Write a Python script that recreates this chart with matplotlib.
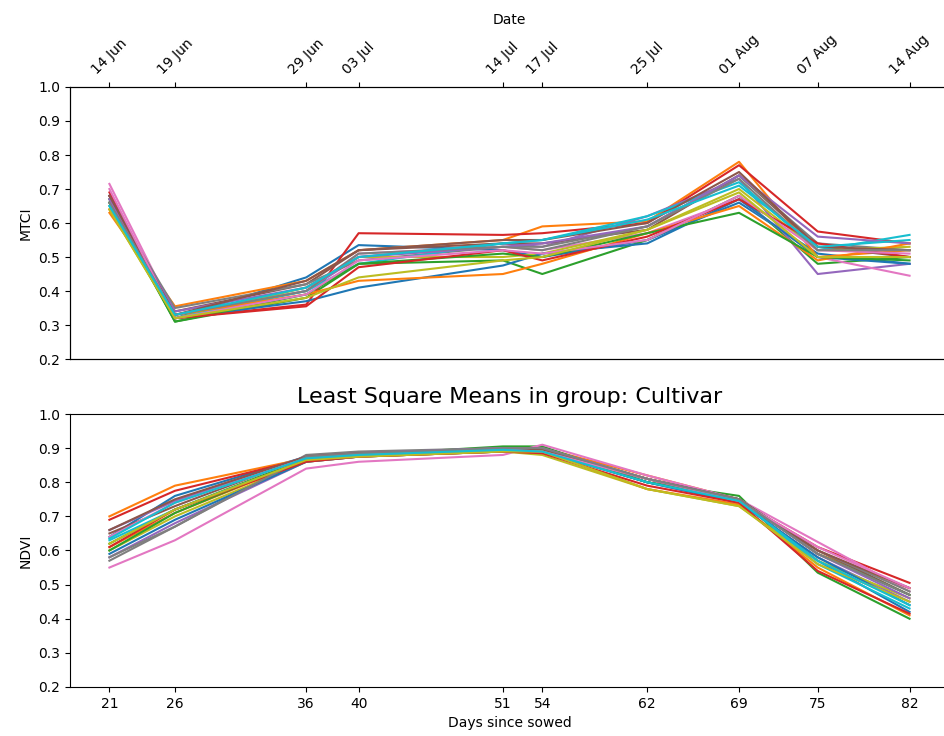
import numpy as np
import matplotlib
matplotlib.use("Agg")
import matplotlib.pyplot as plt

days = [21, 26, 36, 40, 51, 54, 62, 69, 75, 82]
dates = ["14 Jun", "19 Jun", "29 Jun", "03 Jul", "14 Jul", "17 Jul",
         "25 Jul", "01 Aug", "07 Aug", "14 Aug"]

# MTCI least square means per cultivar
mtci = [
    [0.66, 0.32, 0.44, 0.535, 0.52, 0.50, 0.55, 0.66, 0.51, 0.48],
    [0.63, 0.355, 0.43, 0.52, 0.55, 0.59, 0.605, 0.78, 0.50, 0.52],
    [0.67, 0.31, 0.38, 0.48, 0.49, 0.45, 0.55, 0.68, 0.48, 0.50],
    [0.69, 0.32, 0.36, 0.57, 0.565, 0.57, 0.60, 0.77, 0.575, 0.54],
    [0.68, 0.33, 0.40, 0.50, 0.54, 0.53, 0.62, 0.73, 0.45, 0.48],
    [0.66, 0.34, 0.42, 0.52, 0.54, 0.54, 0.58, 0.74, 0.53, 0.50],
    [0.715, 0.33, 0.40, 0.51, 0.53, 0.52, 0.57, 0.67, 0.50, 0.445],
    [0.67, 0.35, 0.42, 0.49, 0.53, 0.53, 0.59, 0.74, 0.54, 0.52],
    [0.64, 0.32, 0.41, 0.50, 0.50, 0.51, 0.58, 0.70, 0.52, 0.53],
    [0.65, 0.32, 0.40, 0.48, 0.54, 0.55, 0.62, 0.72, 0.52, 0.565],
    [0.68, 0.32, 0.37, 0.41, 0.475, 0.51, 0.54, 0.67, 0.50, 0.48],
    [0.64, 0.33, 0.39, 0.43, 0.45, 0.48, 0.57, 0.65, 0.49, 0.54],
    [0.66, 0.31, 0.39, 0.48, 0.51, 0.50, 0.57, 0.63, 0.50, 0.49],
    [0.68, 0.32, 0.355, 0.47, 0.52, 0.49, 0.56, 0.67, 0.54, 0.50],
    [0.67, 0.34, 0.41, 0.50, 0.53, 0.54, 0.59, 0.74, 0.56, 0.54],
    [0.68, 0.33, 0.43, 0.52, 0.55, 0.55, 0.60, 0.75, 0.53, 0.52],
    [0.70, 0.32, 0.39, 0.49, 0.52, 0.51, 0.55, 0.68, 0.52, 0.51],
    [0.66, 0.33, 0.40, 0.51, 0.53, 0.52, 0.59, 0.73, 0.52, 0.52],
    [0.64, 0.32, 0.38, 0.44, 0.49, 0.50, 0.58, 0.69, 0.50, 0.50],
    [0.65, 0.33, 0.41, 0.50, 0.54, 0.55, 0.61, 0.71, 0.53, 0.55],
]

# NDVI least square means per cultivar
ndvi = [
    [0.64, 0.76, 0.875, 0.885, 0.90, 0.895, 0.80, 0.75, 0.57, 0.42],
    [0.70, 0.79, 0.87, 0.885, 0.90, 0.90, 0.82, 0.75, 0.59, 0.49],
    [0.62, 0.72, 0.87, 0.88, 0.905, 0.905, 0.80, 0.76, 0.535, 0.40],
    [0.69, 0.775, 0.87, 0.88, 0.895, 0.89, 0.81, 0.745, 0.61, 0.505],
    [0.58, 0.68, 0.86, 0.875, 0.89, 0.89, 0.80, 0.74, 0.58, 0.45],
    [0.65, 0.73, 0.875, 0.885, 0.895, 0.895, 0.81, 0.75, 0.60, 0.47],
    [0.55, 0.63, 0.84, 0.86, 0.88, 0.91, 0.82, 0.75, 0.625, 0.48],
    [0.57, 0.67, 0.88, 0.89, 0.90, 0.90, 0.81, 0.75, 0.60, 0.48],
    [0.60, 0.70, 0.86, 0.875, 0.89, 0.88, 0.78, 0.73, 0.57, 0.46],
    [0.63, 0.72, 0.865, 0.88, 0.895, 0.895, 0.80, 0.75, 0.56, 0.43],
    [0.59, 0.69, 0.86, 0.875, 0.89, 0.89, 0.80, 0.74, 0.58, 0.44],
    [0.61, 0.71, 0.865, 0.875, 0.89, 0.89, 0.78, 0.735, 0.55, 0.41],
    [0.60, 0.71, 0.87, 0.88, 0.895, 0.895, 0.80, 0.75, 0.59, 0.47],
    [0.61, 0.72, 0.86, 0.875, 0.89, 0.885, 0.79, 0.74, 0.54, 0.415],
    [0.66, 0.745, 0.875, 0.885, 0.90, 0.90, 0.81, 0.75, 0.59, 0.46],
    [0.66, 0.75, 0.875, 0.885, 0.895, 0.895, 0.81, 0.75, 0.60, 0.49],
    [0.64, 0.74, 0.87, 0.88, 0.895, 0.89, 0.81, 0.745, 0.61, 0.49],
    [0.58, 0.67, 0.875, 0.885, 0.90, 0.90, 0.81, 0.75, 0.59, 0.47],
    [0.62, 0.72, 0.865, 0.875, 0.89, 0.89, 0.78, 0.73, 0.56, 0.45],
    [0.635, 0.74, 0.87, 0.88, 0.895, 0.89, 0.80, 0.745, 0.57, 0.44],
]

fig = plt.figure(figsize=(9.44, 7.36), dpi=100)
# axes run past the right edge, like the cropped original
ax1 = fig.add_axes([0.0742, 0.5122, 0.931, 0.3696])
ax2 = fig.add_axes([0.0742, 0.0666, 0.931, 0.3709])

for row in mtci:
    ax1.plot(days, row, lw=1.5)
for row in ndvi:
    ax2.plot(days, row, lw=1.5)

for ax in (ax1, ax2):
    ax.set_xlim(18, 85)
    ax.set_ylim(0.2, 1.0)
    ax.set_yticks(np.arange(0.2, 1.01, 0.1))
    ax.spines["right"].set_visible(False)

ax1.set_ylabel("MTCI")

top = ax1.twiny()
top.set_xlim(ax1.get_xlim())
top.set_xticks(days)
top.set_xticklabels(dates, rotation=45)
top.set_xlabel("Date", labelpad=6)
top.spines["right"].set_visible(False)
# twiny turns the bottom ticks back on
ax1.tick_params(axis="x", bottom=False, labelbottom=False)

ax2.set_xticks(days)
ax2.set_xlabel("Days since sowed")
ax2.set_ylabel("NDVI")
ax2.set_title("Least Square Means in group: Cultivar", fontsize=16, pad=8)

fig.savefig("out.png", dpi=100)
